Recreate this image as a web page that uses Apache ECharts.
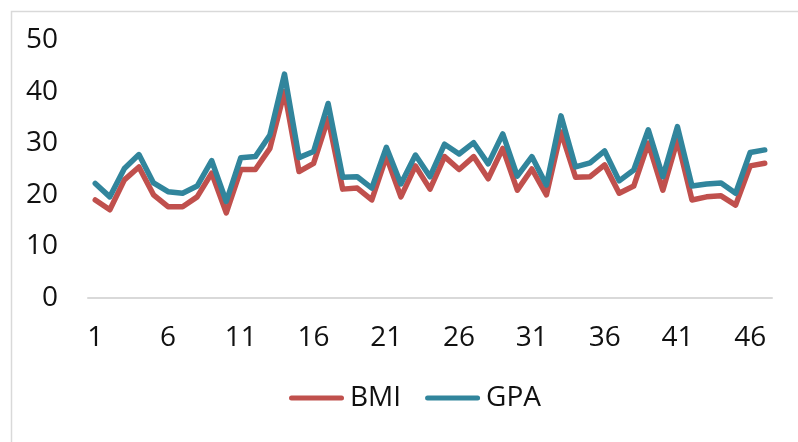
<!DOCTYPE html>
<html>
<head>
<meta charset="utf-8">
<script src="https://cdn.jsdelivr.net/npm/echarts@6/dist/echarts.min.js"></script>
<style>
  html, body { margin: 0; padding: 0; background: #fff; }
  #chart { width: 798px; height: 442px; }
</style>
</head>
<body>
<div id="chart"></div>
<script>
// Student index along the x axis
const categories = Array.from({ length: 47 }, (_, i) => String(i + 1));

// BMI per student
const bmi = [19.0, 17.1, 22.9, 25.4, 20.0, 17.7, 17.7, 19.6, 24.2, 16.5,
             24.9, 24.9, 29.0, 40.0, 24.5, 26.1, 34.8, 21.1, 21.3, 19.0,
             27.4, 19.6, 25.6, 21.1, 27.4, 24.9, 27.4, 23.1, 29.0, 20.9,
             25.0, 20.0, 32.2, 23.4, 23.5, 25.8, 20.3, 21.7, 30.0, 20.9,
             30.6, 19.0, 19.6, 19.8, 18.0, 25.6, 26.1];

// GPA per student (stacked on top of BMI)
const gpa = [3.2, 2.5, 2.2, 2.4, 2.3, 2.9, 2.6, 2.1, 2.4, 2.2,
             2.3, 2.5, 2.6, 3.4, 2.7, 2.3, 2.9, 2.3, 2.2, 2.3,
             1.8, 2.5, 2.1, 2.4, 2.4, 3.0, 2.7, 2.9, 2.8, 2.7,
             2.4, 1.9, 3.1, 2.0, 2.7, 2.7, 2.4, 3.1, 2.6, 2.6,
             2.6, 2.7, 2.5, 2.5, 2.3, 2.6, 2.6];

const yTicks = { min: 0, max: 50, interval: 10 };

const FONT = 'Open Sans';
const RED = '#C0504D';
const TEAL = '#31859C';

// rounded bar used as the legend key
const LEGEND_ICON = 'path://M2.5,0 L52.5,0 A2.5,2.5 0 0 1 52.5,5 L2.5,5 A2.5,2.5 0 0 1 2.5,0 Z';

const chart = echarts.init(document.getElementById('chart'), null, { renderer: 'canvas' });

chart.setOption({
  backgroundColor: '#ffffff',
  animation: false,
  textStyle: { fontFamily: FONT },
  graphic: [{
    type: 'rect',
    left: 9, top: 9,
    shape: { width: 900, height: 600 },
    style: { fill: 'none', stroke: '#D9D9D9', lineWidth: 1.5 },
    silent: true, z: -1
  }],
  grid: { left: 88, right: 26, top: 40, bottom: 144, containLabel: false },
  legend: {
    left: 289, top: 384,
    padding: 0,
    itemWidth: 55, itemHeight: 5, itemGap: 24,
    icon: LEGEND_ICON,
    textStyle: { fontFamily: FONT, fontSize: 28, color: '#111', padding: [0, 0, 0, 1] },
    data: [
      { name: 'BMI', itemStyle: { color: RED } },
      { name: 'GPA', itemStyle: { color: TEAL } }
    ]
  },
  xAxis: {
    type: 'category',
    data: categories,
    boundaryGap: true,
    axisLine: { lineStyle: { color: '#D9D9D9', width: 2 } },
    axisTick: { show: false },
    axisLabel: { interval: 4, margin: 26, fontSize: 28, color: '#111', fontFamily: FONT },
    splitLine: { show: false }
  },
  yAxis: {
    type: 'value',
    min: yTicks.min, max: yTicks.max, interval: yTicks.interval,
    axisLine: { show: false },
    axisTick: { show: false },
    axisLabel: { margin: 30, fontSize: 28, color: '#111', fontFamily: FONT },
    splitLine: { show: false }
  },
  series: [
    {
      name: 'BMI', type: 'line', stack: 'total', data: bmi,
      symbol: 'none', color: RED,
      lineStyle: { width: 5.5, color: RED, cap: 'round', join: 'round' }
    },
    {
      name: 'GPA', type: 'line', stack: 'total', data: gpa,
      symbol: 'none', color: TEAL,
      lineStyle: { width: 5.5, color: TEAL, cap: 'round', join: 'round' }
    }
  ]
});
</script>
</body>
</html>
